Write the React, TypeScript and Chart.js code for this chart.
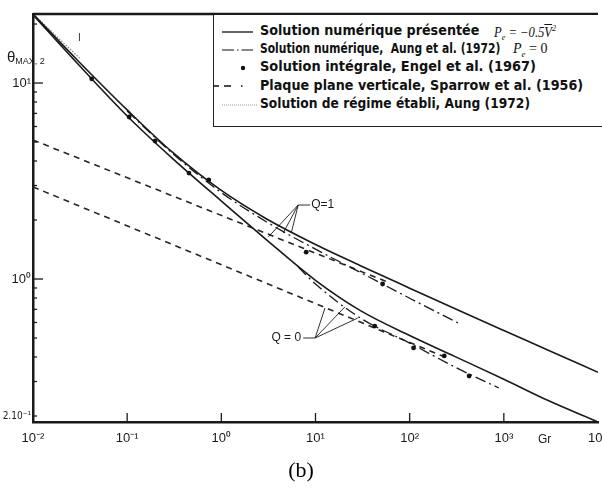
import React, { useEffect, useLayoutEffect, useRef } from "react";
import { Chart, registerables } from "chart.js";

Chart.register(...registerables);

// ---------- data ----------
const grGrid = [0.01, 0.03, 0.1, 0.3, 1, 3, 10, 30, 100, 300, 1000, 3000, 10000];
const thetaPresentQ1 = [22.5, 13.0, 7.29, 4.45, 2.83, 2.03, 1.5, 1.17, 0.898, 0.707, 0.546, 0.432, 0.334];
const thetaPresentQ0 = [22.3, 12.5, 6.79, 4.14, 2.5, 1.59, 0.985, 0.69, 0.515, 0.403, 0.308, 0.239, 0.1864];

const grAungQ1 = [0.1, 0.3, 1, 3, 10, 30, 100, 335];
const thetaAungQ1 = [7.2, 4.39, 2.76, 1.96, 1.42, 1.08, 0.798, 0.593];
const grAungQ0 = [6.55, 10, 30, 100, 300, 885];
const thetaAungQ0 = [1.15, 0.943, 0.632, 0.471, 0.356, 0.278];

const grEngel = [0.042, 0.105, 0.198, 0.453, 0.736, 7.96, 51.6, 42.6, 110, 233, 428];
const thetaEngel = [10.5, 6.71, 5.06, 3.47, 3.2, 1.37, 0.943, 0.575, 0.445, 0.405, 0.32];

const grSparrowQ1 = [0.01, 58.3];
const thetaSparrowQ1 = [5.12, 0.965];
const grSparrowQ0 = [0.01, 222];
const thetaSparrowQ0 = [2.95, 0.405];

const grSteady = [0.01, 0.0313];
const thetaSteady = [22.5, 13.4];

const xTickValues = [0.01, 0.1, 1, 10, 100, 1000, 10000];
const xTickLabels = ["10⁻²", "10⁻¹", "10⁰", "10¹", "10²", "10³", "10⁴"];
const yTickValues = [0.2, 1, 10];
const yTickLabels = ["2.10⁻¹", "10⁰", "10¹"];
const yMinorTicks = [0.3, 0.4, 0.5, 0.6, 0.7, 0.8, 0.9, 2, 3, 4, 5, 6, 7, 8, 9, 20];

const legendTexts = [
  "Solution numérique présentée",
  "Solution numérique,\u00a0 Aung et al. (1972)",
  "Solution intégrale, Engel et al. (1967)",
  "Plaque plane verticale, Sparrow et al. (1956)",
  "Solution de régime établi, Aung (1972)",
];

// annotation leaders (data coordinates)
const q1Hub = [6.55, 2.385];
const q1BarEnd = [8.77, 2.385];
const q1Ends = [[3.16, 1.64], [4.55, 1.72], [5.53, 1.72]];
const q0Hub = [9.91, 0.5];
const q0BarEnd = [7.39, 0.5];
const q0Ends = [[12.6, 0.711], [20.5, 0.72], [28.1, 0.632]];

const W = 602;
const H = 460;
const FONT = '"Liberation Sans", Arial, sans-serif';
const NARROW = '"Liberation Sans Narrow", "DejaVu Sans Condensed", "Liberation Sans", Arial, sans-serif';
const INK = "#1a1a1a";
const LEGEND_ROW_Y = [32, 50, 68, 87, 105];
const LEGEND_ROW_W = [219, 240, 276, 323, 270];

const toXY = (xs: number[], ys: number[]) => xs.map((x, i) => ({ x, y: ys[i] }));

export default function App() {
  const ref = useRef<HTMLCanvasElement | null>(null);
  const textRefs = useRef<(HTMLSpanElement | null)[]>([]);

  useLayoutEffect(() => {
    textRefs.current.forEach((el, i) => {
      if (!el) return;
      const w = el.offsetWidth;
      if (w > 0) el.style.transform = `scaleX(${LEGEND_ROW_W[i] / w})`;
    });
  }, []);

  useEffect(() => {
    if (!ref.current) return;

    const decor = {
      id: "decor",
      afterDraw(chart: any) {
        const { ctx, chartArea: a } = chart;
        const x = chart.scales.x;
        const y = chart.scales.y;
        const line = (x1: number, y1: number, x2: number, y2: number) => {
          ctx.beginPath();
          ctx.moveTo(x1, y1);
          ctx.lineTo(x2, y2);
          ctx.stroke();
        };
        ctx.save();
        ctx.strokeStyle = INK;
        ctx.lineWidth = 2.5;
        line(a.left, a.top, a.right, a.top);
        ctx.lineWidth = 1.3;
        xTickValues.forEach((v) => {
          const px = x.getPixelForValue(v);
          if (px > a.left + 3 && px < a.right - 3) line(px, a.bottom, px, a.bottom - 9);
        });
        yTickValues.forEach((v) => {
          const py = y.getPixelForValue(v);
          line(a.left, py, a.left + (v === 0.2 ? 4 : 10), py);
        });
        yMinorTicks.forEach((v) => {
          const py = y.getPixelForValue(v);
          line(a.left, py, a.left + 4, py);
        });
        ctx.lineWidth = 0.9;
        const P = (p: number[]) => [x.getPixelForValue(p[0]), y.getPixelForValue(p[1])];
        const drawFan = (hub: number[], bar: number[], ends: number[][]) => {
          const h = P(hub);
          const b = P(bar);
          line(h[0], h[1], b[0], b[1]);
          ends.forEach((e) => {
            const pe = P(e);
            line(h[0], h[1], pe[0], pe[1]);
          });
        };
        drawFan(q1Hub, q1BarEnd, q1Ends);
        drawFan(q0Hub, q0BarEnd, q0Ends);
        ctx.fillStyle = INK;
        ctx.font = `12px ${FONT}`;
        ctx.textBaseline = "middle";
        const b1 = P(q1BarEnd);
        ctx.textAlign = "left";
        ctx.fillText("Q=1", b1[0] + 1, b1[1]);
        const b0 = P(q0BarEnd);
        ctx.textAlign = "right";
        ctx.fillText("Q = 0", b0[0] - 2, b0[1]);
        ctx.restore();
      },
    };

    const chart = new Chart(ref.current, {
      type: "line",
      data: {
        datasets: [
          {
            label: "Solution intégrale, Engel et al. (1967)",
            data: toXY(grEngel, thetaEngel),
            showLine: false,
            pointRadius: 2.4,
            pointBackgroundColor: "#111",
            pointBorderWidth: 0,
          },
          {
            label: "Solution numérique présentée Q=1",
            data: toXY(grGrid, thetaPresentQ1),
            borderColor: INK,
            borderWidth: 1.6,
            pointRadius: 0,
            cubicInterpolationMode: "monotone",
          },
          {
            label: "Solution numérique présentée Q=0",
            data: toXY(grGrid, thetaPresentQ0),
            borderColor: INK,
            borderWidth: 1.6,
            pointRadius: 0,
            cubicInterpolationMode: "monotone",
          },
          {
            label: "Aung Q=1",
            data: toXY(grAungQ1, thetaAungQ1),
            borderColor: INK,
            borderWidth: 1.3,
            borderDash: [11, 4, 2, 4],
            pointRadius: 0,
            cubicInterpolationMode: "monotone",
          },
          {
            label: "Aung Q=0",
            data: toXY(grAungQ0, thetaAungQ0),
            borderColor: INK,
            borderWidth: 1.3,
            borderDash: [11, 4, 2, 4],
            pointRadius: 0,
            cubicInterpolationMode: "monotone",
          },
          {
            label: "Sparrow Q=1",
            data: toXY(grSparrowQ1, thetaSparrowQ1),
            borderColor: "#262626",
            borderWidth: 1.6,
            borderDash: [6, 5],
            pointRadius: 0,
          },
          {
            label: "Sparrow Q=0",
            data: toXY(grSparrowQ0, thetaSparrowQ0),
            borderColor: "#262626",
            borderWidth: 1.6,
            borderDash: [6, 5],
            pointRadius: 0,
          },
          {
            label: "Régime établi",
            data: toXY(grSteady, thetaSteady),
            borderColor: "#8a8a8a",
            borderWidth: 1.3,
            borderDash: [1.5, 1.5],
            pointRadius: 0,
          },
        ],
      },
      options: {
        animation: false,
        responsive: false,
        devicePixelRatio: 1,
        layout: { padding: { top: 14, left: 0, right: 0, bottom: 0 } },
        plugins: { legend: { display: false }, tooltip: { enabled: false } },
        scales: {
          x: {
            type: "logarithmic",
            min: 0.01,
            max: 10000,
            grid: { display: false, drawTicks: false },
            border: { display: true, color: INK, width: 2.5 },
            afterBuildTicks: (s: any) => {
              s.ticks = xTickValues.map((v) => ({ value: v }));
            },
            afterFit: (s: any) => {
              s.height = H - 422;
              s.paddingLeft = 0;
              s.paddingRight = 0;
            },
            ticks: {
              autoSkip: false,
              maxRotation: 0,
              padding: 9,
              color: INK,
              font: { family: FONT, size: 13 },
              callback: (_v: any, i: number) => xTickLabels[i],
            },
          },
          y: {
            type: "logarithmic",
            min: 0.1864,
            max: 22.5,
            grid: { display: false, drawTicks: false },
            border: { display: true, color: INK, width: 2.5 },
            afterBuildTicks: (s: any) => {
              s.ticks = yTickValues.map((v) => ({ value: v }));
            },
            afterFit: (s: any) => {
              s.width = 33;
              s.paddingTop = 0;
              s.paddingBottom = 0;
            },
            ticks: {
              autoSkip: false,
              padding: 2,
              color: INK,
              font: (c: any) =>
                c.index === 0 ? { family: NARROW, size: 10 } : { family: FONT, size: 13 },
              callback: (_v: any, i: number) => yTickLabels[i],
            },
          },
        },
      },
      plugins: [decor],
    } as any);

    return () => chart.destroy();
  }, []);

  const row = (top: number): React.CSSProperties => ({
    position: "absolute",
    left: 0,
    top: top - 15 - 9,
    height: 18,
    lineHeight: "18px",
    width: 400,
  });
  const txt: React.CSSProperties = {
    position: "absolute",
    left: 46,
    top: 0,
    font: 'bold 13.2px "DejaVu Sans", sans-serif',
    color: "#111",
    whiteSpace: "nowrap",
    transformOrigin: "left center",
    display: "inline-block",
  };
  const math: React.CSSProperties = {
    position: "absolute",
    top: 0,
    font: 'italic 14px "Liberation Serif", "Times New Roman", serif',
    color: "#111",
    whiteSpace: "nowrap",
    transformOrigin: "left center",
  };

  return (
    <div
      style={{
        position: "absolute",
        left: 0,
        top: 0,
        width: W,
        height: 498,
        background: "#fff",
        overflow: "hidden",
      }}
    >
      <canvas ref={ref} width={W} height={H} style={{ position: "absolute", left: 0, top: 0, display: "block" }} />

      <div style={{ position: "absolute", left: 7, top: 48, font: `15px ${FONT}`, color: INK, whiteSpace: "nowrap" }}>
        θ<span style={{ fontSize: 9, position: "relative", top: 2 }}>MAX, 2</span>
      </div>
      <div style={{ position: "absolute", left: 78, top: 32, font: `10px ${FONT}`, color: "#333" }}>I</div>
      <div style={{ position: "absolute", left: 538, top: 432, font: `12px ${FONT}`, color: INK }}>Gr</div>
      <div
        style={{
          position: "absolute",
          left: 0,
          width: W,
          top: 457,
          textAlign: "center",
          font: '22px "Liberation Serif", "Times New Roman", serif',
          color: "#000",
        }}
      >
        (b)
      </div>

      <div
        style={{
          position: "absolute",
          left: 213,
          top: 15,
          width: 400,
          height: 111,
          background: "#fff",
          borderLeft: "1px solid #222",
          borderBottom: "1.5px solid #222",
        }}
      >
        <svg width={46} height={111} style={{ position: "absolute", left: -1, top: 0 }}>
          <line x1={9} y1={17} x2={40} y2={17} stroke="#111" strokeWidth={1.3} />
          <line x1={9} y1={35} x2={40} y2={35} stroke="#111" strokeWidth={1.2} strokeDasharray="12 3 1.5 3" />
          <circle cx={30} cy={53} r={2.2} fill="#111" />
          <line x1={0} y1={71} x2={31} y2={71} stroke="#111" strokeWidth={1.4} strokeDasharray="6 5 7 10 1.5 20" />
          <line x1={9} y1={90} x2={45} y2={90} stroke="#999" strokeWidth={1} strokeDasharray="1 1" />
        </svg>
        {legendTexts.map((t, i) => (
          <div key={i} style={row(LEGEND_ROW_Y[i])}>
            <span
              ref={(el) => {
                textRefs.current[i] = el;
              }}
              style={txt}
            >
              {t}
            </span>
            {i === 0 && (
              <span style={{ ...math, left: 280, transform: "scaleX(0.9)" }}>
                P<sub style={{ fontSize: 9 }}>e</sub> = −0.5
                <span style={{ textDecoration: "overline" }}>V</span>
                <sup style={{ fontSize: 9 }}>2</sup>
              </span>
            )}
            {i === 1 && (
              <span style={{ ...math, left: 299, fontStyle: "normal" }}>
                <i>P</i>
                <sub style={{ fontSize: 9 }}>
                  <i>e</i>
                </sub>{" "}
                = 0
              </span>
            )}
          </div>
        ))}
      </div>
    </div>
  );
}
